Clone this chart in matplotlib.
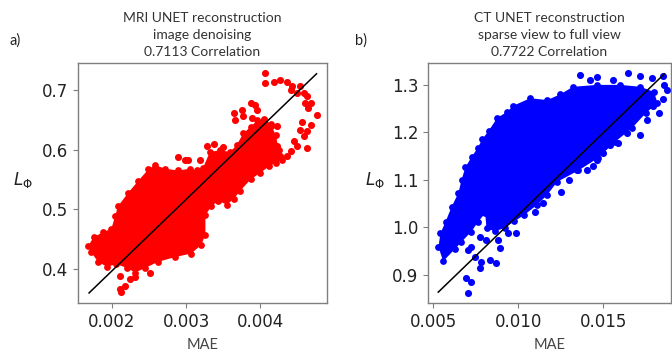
#Two scatter panels: perceptual loss vs MAE for MRI and CT UNET reconstructions
import matplotlib
matplotlib.use('Agg')
import matplotlib.pyplot as plt

#MRI panel: outline of the dense point cloud (MAE, L_phi)
mri_cloud_mae = [0.00168, 0.00175, 0.00188, 0.00199, 0.00204, 0.00208, 0.00222, 0.00235, 0.00249, 0.00258,
                 0.00272, 0.00289, 0.00305, 0.00314, 0.00323, 0.00332, 0.00346, 0.00359, 0.00368, 0.00377,
                 0.00387, 0.00396, 0.00405, 0.00414, 0.00421, 0.00425, 0.00430,
                 0.00421, 0.00412, 0.00400, 0.00387, 0.00373, 0.00364, 0.00355, 0.00343, 0.00334, 0.00326,
                 0.00326, 0.00320, 0.00307, 0.00285, 0.00262, 0.00245, 0.00231, 0.00220, 0.00206, 0.00193,
                 0.00181, 0.00172]
mri_cloud_lphi = [0.439, 0.453, 0.462, 0.467, 0.488, 0.505, 0.528, 0.547, 0.567, 0.574,
                  0.568, 0.565, 0.568, 0.565, 0.570, 0.596, 0.599, 0.596, 0.607, 0.627,
                  0.638, 0.649, 0.652, 0.643, 0.624, 0.600, 0.583,
                  0.578, 0.572, 0.561, 0.550, 0.531, 0.517, 0.508, 0.514, 0.505, 0.490,
                  0.457, 0.440, 0.426, 0.420, 0.412, 0.402, 0.394, 0.402, 0.408, 0.404,
                  0.412, 0.428]

#MRI panel: the loose points outside the dense cloud
mri_sparse_mae = [0.00407, 0.00407, 0.00418, 0.00427, 0.00436, 0.00443, 0.00454, 0.00441, 0.00450, 0.00459,
                  0.00463, 0.00461, 0.00468, 0.00465, 0.00477, 0.00456, 0.00468, 0.00454, 0.00463, 0.00459,
                  0.00445, 0.00450, 0.00463, 0.00441, 0.00436, 0.00427, 0.00364, 0.00375, 0.00387, 0.00393,
                  0.00396, 0.00377, 0.00366, 0.00389, 0.00405, 0.00414, 0.00423, 0.00418, 0.00414, 0.00423,
                  0.00289, 0.00299, 0.00303, 0.00319, 0.00328, 0.00337, 0.00350, 0.00211, 0.00218, 0.00211,
                  0.00224, 0.00231, 0.00251, 0.00238, 0.00212]
mri_sparse_lphi = [0.728, 0.711, 0.714, 0.717, 0.714, 0.706, 0.706, 0.700, 0.694, 0.694,
                   0.689, 0.678, 0.678, 0.669, 0.658, 0.647, 0.642, 0.633, 0.631, 0.622,
                   0.614, 0.606, 0.603, 0.597, 0.589, 0.589, 0.661, 0.667, 0.678, 0.675,
                   0.667, 0.656, 0.650, 0.653, 0.650, 0.639, 0.639, 0.622, 0.611, 0.606,
                   0.588, 0.583, 0.583, 0.583, 0.606, 0.609, 0.604, 0.389, 0.372, 0.367,
                   0.383, 0.387, 0.394, 0.406, 0.362]

#CT panel: outline of the dense point cloud
ct_cloud_mae = [0.00559, 0.00531, 0.00543, 0.00573, 0.00608, 0.00649, 0.00667, 0.00690, 0.00726, 0.00761,
                0.00790, 0.00826, 0.00878, 0.00935, 0.00971, 0.01071, 0.01171, 0.01247, 0.01324, 0.01465,
                0.01600, 0.01720, 0.01800,
                0.01820, 0.01750, 0.01670, 0.01570, 0.01470, 0.01355, 0.01230, 0.01170, 0.01110, 0.01035,
                0.00978, 0.00920, 0.00865, 0.00814, 0.00806, 0.00765, 0.00724, 0.00665, 0.00629]
ct_cloud_lphi = [0.929, 0.959, 0.988, 1.012, 1.043, 1.073, 1.100, 1.127, 1.148, 1.167,
                 1.186, 1.203, 1.231, 1.243, 1.256, 1.272, 1.268, 1.280, 1.296, 1.300,
                 1.300, 1.296, 1.285,
                 1.262, 1.240, 1.209, 1.180, 1.146, 1.120, 1.096, 1.068, 1.047, 1.026,
                 1.013, 0.999, 0.992, 0.998, 1.030, 1.012, 0.991, 0.969, 0.955]

#CT panel: loose points
ct_sparse_mae = [0.00724, 0.00776, 0.00812, 0.00882, 0.00894, 0.00747, 0.00782, 0.00776, 0.00835, 0.00871,
                 0.00694, 0.00724, 0.00706, 0.00706, 0.00941, 0.00988, 0.01100, 0.01147, 0.01365, 0.01424,
                 0.01465, 0.01647, 0.01718, 0.01788, 0.01853, 0.01876, 0.01853, 0.01794, 0.01759, 0.01718,
                 0.01641, 0.01588, 0.01541, 0.01500, 0.01465, 0.01441, 0.01406, 0.01347, 0.01300, 0.01250,
                 0.01860, 0.01830, 0.01700, 0.01560]
ct_sparse_lphi = [0.959, 0.980, 0.974, 0.974, 0.957, 0.938, 0.927, 0.915, 0.932, 0.925,
                  0.894, 0.886, 0.862, 0.953, 0.988, 0.988, 1.033, 1.051, 1.321, 1.311,
                  1.317, 1.325, 1.319, 1.315, 1.319, 1.290, 1.270, 1.256, 1.226, 1.195,
                  1.199, 1.178, 1.174, 1.157, 1.142, 1.130, 1.121, 1.121, 1.100, 1.075,
                  1.300, 1.240, 1.250, 1.310]

#Black reference lines (start and end points)
mri_fit_mae = [0.00169, 0.00476]
mri_fit_lphi = [0.360, 0.727]
ct_fit_mae = [0.0053, 0.0186]
ct_fit_lphi = [0.864, 1.323]

mri_title = 'MRI UNET reconstruction\nimage denoising\n0.7113 Correlation'
ct_title = 'CT UNET reconstruction\nsparse view to full view\n0.7722 Correlation'
mri_xticks = [0.002, 0.003, 0.004]
mri_yticks = [0.4, 0.5, 0.6, 0.7]
ct_xticks = [0.005, 0.010, 0.015]
ct_yticks = [0.9, 1.0, 1.1, 1.2, 1.3]

text_font = ['Lato', 'DejaVu Sans']
grey = '#7f7f7f'


def draw_panel(ax, cloud_x, cloud_y, sparse_x, sparse_y, fit_x, fit_y, colour, title, tag,
               xticks, yticks, xlim, ylim, tag_x):
    #dense part of the cloud: filled outline plus its edge points
    ax.fill(cloud_x, cloud_y, color=colour, lw=0, zorder=1)
    ax.scatter(cloud_x, cloud_y, s=24, color=colour, lw=0, zorder=2)
    ax.scatter(sparse_x, sparse_y, s=26, color=colour, lw=0, zorder=2)
    ax.plot(fit_x, fit_y, color='black', lw=1.1, zorder=3)

    ax.set_xlim(xlim)
    ax.set_ylim(ylim)
    ax.set_xticks(xticks)
    ax.set_yticks(yticks)
    ax.tick_params(labelsize=12, colors='#222222', length=3.5, width=0.8)
    ax.tick_params(color=grey)
    for spine in ax.spines.values():
        spine.set_color(grey)
        spine.set_linewidth(1.0)

    ax.set_title(title, fontsize=10, family=text_font, color='#333333', linespacing=1.5, pad=5)
    ax.set_xlabel('MAE', fontsize=10.5, family=text_font, color='#444444', labelpad=5)
    ax.set_ylabel(r'$L_\Phi$', fontsize=12, rotation=0, color='#222222')
    ax.yaxis.set_label_coords(-0.22, 0.47)
    ax.text(tag_x, 1.075, tag, transform=ax.transAxes, fontsize=10.5, family=text_font, color='#222222')


fig = plt.figure(figsize=(6.72, 3.52), dpi=100)
ax1 = fig.add_axes([0.116, 0.139, 0.3705, 0.682])
ax2 = fig.add_axes([0.637, 0.139, 0.3616, 0.682])

draw_panel(ax1, mri_cloud_mae, mri_cloud_lphi, mri_sparse_mae, mri_sparse_lphi, mri_fit_mae, mri_fit_lphi,
           '#ff0000', mri_title, 'a)', mri_xticks, mri_yticks, (0.00154, 0.0049), (0.343, 0.745), -0.275)
draw_panel(ax2, ct_cloud_mae, ct_cloud_lphi, ct_sparse_mae, ct_sparse_lphi, ct_fit_mae, ct_fit_lphi,
           '#0000ff', ct_title, 'b)', ct_xticks, ct_yticks, (0.0047, 0.0190), (0.841, 1.346), -0.30)

plt.savefig('out.png', dpi=100)
